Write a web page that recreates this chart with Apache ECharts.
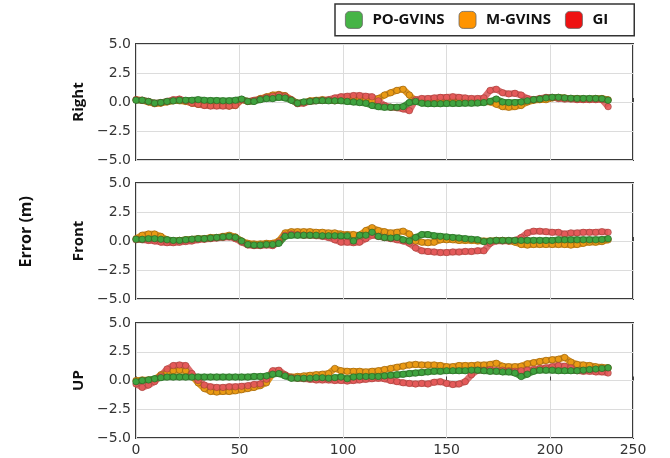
<!DOCTYPE html>
<html>
<head>
<meta charset="utf-8">
<script src="https://cdn.jsdelivr.net/npm/echarts@6/dist/echarts.min.js"></script>
<style>html,body{margin:0;padding:0;background:#fff}#c{width:670px;height:458px}</style>
</head>
<body>
<div id="c"></div>
<script>
// ---- data ----
const xs = [0,3,6,9,12,15,18,21,24,27,30,33,36,39,42,45,48,51,54,57,60,63,66,69,72,75,78,81,84,87,90,93,96,99,102,105,108,111,114,117,120,123,126,129,132,135,138,141,144,147,150,153,156,159,162,165,168,171,174,177,180,183,186,189,192,195,198,201,204,207,210,213,216,219,222,225,228];
const seriesNames = ['PO-GVINS','M-GVINS','GI'];
const panelNames = ['Right','Front','UP'];
const xTickLabels = ['0','50','100','150','200','250'];
const yTickLabels = ['\u22125.0','\u22122.5','0.0','2.5','5.0'];

const rightPO = [0.15,0.15,0.05,-0.1,-0.05,0.05,0.1,0.15,0.15,0.15,
 0.2,0.15,0.12,0.12,0.1,0.1,0.15,0.25,0.05,0.05,
 0.2,0.3,0.3,0.4,0.35,0.15,-0.1,0.0,0.05,0.1,
 0.12,0.1,0.1,0.1,0.05,0.0,-0.05,-0.1,-0.3,-0.4,
 -0.45,-0.45,-0.45,-0.4,-0.05,0.05,-0.1,-0.15,-0.15,-0.15,
 -0.12,-0.12,-0.12,-0.1,-0.1,-0.08,-0.05,0.05,0.25,0.0,
 -0.05,-0.05,0.0,0.1,0.2,0.25,0.35,0.4,0.4,0.35,
 0.32,0.3,0.3,0.3,0.3,0.28,0.15];
const rightM = [0.2,0.15,0.0,-0.15,-0.1,0.0,0.1,0.1,0.05,-0.1,
 -0.2,-0.25,-0.3,-0.3,-0.3,-0.35,-0.3,0.2,0.05,0.1,
 0.3,0.45,0.6,0.65,0.55,0.2,-0.1,-0.05,0.1,0.15,
 0.2,0.15,0.1,0.15,0.3,0.3,0.3,0.25,0.1,0.3,
 0.6,0.8,1.0,1.1,0.6,0.1,0.0,-0.05,0.0,0.0,
 0.0,0.05,0.05,0.0,0.0,0.0,0.05,0.0,-0.2,-0.4,
 -0.45,-0.4,-0.3,0.0,0.15,0.2,0.2,0.35,0.4,0.35,
 0.3,0.3,0.25,0.25,0.3,0.3,0.2];
const rightGI = [0.2,0.15,0.05,-0.1,-0.05,0.05,0.2,0.25,0.1,-0.1,
 -0.2,-0.3,-0.35,-0.35,-0.35,-0.35,-0.3,0.2,0.05,0.15,
 0.25,0.4,0.5,0.6,0.5,0.2,-0.15,-0.1,0.05,0.1,
 0.15,0.2,0.35,0.45,0.5,0.55,0.55,0.5,0.45,0.1,
 -0.3,-0.45,-0.5,-0.6,-0.75,0.2,0.3,0.3,0.35,0.4,
 0.4,0.45,0.4,0.35,0.3,0.3,0.35,1.0,1.1,0.8,
 0.7,0.75,0.6,0.3,0.2,0.3,0.4,0.4,0.3,0.25,
 0.25,0.2,0.2,0.2,0.2,0.2,-0.4];

const frontPO = [0.15,0.15,0.2,0.2,0.15,0.1,0.05,0.05,0.1,0.15,
 0.2,0.2,0.25,0.3,0.35,0.4,0.3,0.0,-0.3,-0.35,
 -0.35,-0.3,-0.3,-0.2,0.4,0.5,0.5,0.5,0.5,0.5,
 0.45,0.45,0.45,0.45,0.45,0.0,0.5,0.5,0.75,0.4,
 0.3,0.25,0.3,0.1,0.0,0.3,0.55,0.55,0.45,0.4,
 0.35,0.3,0.25,0.2,0.15,0.1,-0.05,0.0,0.05,0.05,
 0.05,0.05,0.05,0.05,0.05,0.05,0.05,0.05,0.1,0.1,
 0.1,0.1,0.1,0.1,0.1,0.12,0.2];
const frontM = [0.2,0.5,0.6,0.6,0.4,0.1,0.0,0.05,0.1,0.15,
 0.2,0.2,0.3,0.3,0.4,0.5,0.35,0.0,-0.2,-0.25,
 -0.25,-0.2,-0.2,0.0,0.7,0.8,0.8,0.8,0.8,0.75,
 0.75,0.7,0.7,0.6,0.55,0.55,0.5,0.9,1.15,0.9,
 0.8,0.7,0.75,0.85,0.6,0.0,-0.1,-0.15,-0.1,0.1,
 0.1,0.1,0.05,0.05,0.05,0.0,0.0,0.0,0.05,0.05,
 0.0,-0.1,-0.3,-0.35,-0.3,-0.3,-0.3,-0.3,-0.3,-0.3,
 -0.35,-0.3,-0.2,-0.1,-0.1,-0.05,0.1];
const frontGI = [0.1,0.1,0.05,0.0,-0.1,-0.15,-0.15,-0.1,-0.05,0.0,
 0.1,0.15,0.2,0.25,0.3,0.35,0.2,-0.1,-0.35,-0.4,
 -0.4,-0.35,-0.4,-0.1,0.5,0.6,0.55,0.5,0.5,0.45,
 0.4,0.3,0.1,-0.1,-0.1,-0.15,-0.1,0.2,0.5,0.4,
 0.3,0.2,0.1,0.0,-0.2,-0.6,-0.85,-0.9,-0.95,-1.0,
 -1.0,-0.95,-0.95,-0.9,-0.9,-0.85,-0.85,-0.2,0.0,0.0,
 0.0,0.05,0.3,0.7,0.85,0.85,0.8,0.75,0.75,0.6,
 0.7,0.7,0.75,0.75,0.75,0.8,0.75];

const upPO = [-0.1,0.0,0.05,0.15,0.25,0.3,0.3,0.3,0.3,0.3,
 0.3,0.3,0.3,0.3,0.3,0.3,0.3,0.3,0.3,0.35,
 0.35,0.4,0.55,0.6,0.4,0.2,0.2,0.2,0.2,0.25,
 0.25,0.2,0.25,0.3,0.15,0.3,0.35,0.35,0.35,0.35,
 0.4,0.45,0.5,0.55,0.6,0.65,0.7,0.75,0.8,0.8,
 0.85,0.85,0.85,0.85,0.9,0.9,0.85,0.8,0.8,0.75,
 0.75,0.65,0.35,0.55,0.8,0.9,0.9,0.9,0.85,0.85,
 0.85,0.85,0.9,0.95,1.0,1.05,1.1];
const upM = [0.0,0.05,0.05,0.1,0.5,0.75,0.85,0.9,0.85,0.4,
 -0.2,-0.7,-0.95,-1.0,-0.95,-0.95,-0.9,-0.8,-0.7,-0.6,
 -0.45,-0.2,0.6,0.75,0.45,0.3,0.35,0.4,0.45,0.5,
 0.55,0.6,1.05,0.85,0.8,0.8,0.8,0.75,0.8,0.85,
 0.95,1.05,1.15,1.25,1.35,1.4,1.35,1.35,1.35,1.3,
 1.2,1.2,1.3,1.3,1.3,1.35,1.35,1.4,1.5,1.25,
 1.2,1.2,1.25,1.45,1.55,1.65,1.75,1.8,1.85,2.0,
 1.6,1.4,1.35,1.3,1.2,1.15,1.1];
const upGI = [-0.3,-0.6,-0.4,-0.1,0.4,1.0,1.3,1.35,1.3,0.6,
 0.0,-0.4,-0.55,-0.6,-0.6,-0.55,-0.55,-0.5,-0.45,-0.35,
 -0.3,0.1,0.85,0.9,0.5,0.25,0.2,0.15,0.1,0.05,
 0.05,0.05,0.0,0.0,-0.05,0.0,0.05,0.1,0.15,0.2,
 0.15,0.0,-0.1,-0.2,-0.25,-0.3,-0.25,-0.3,-0.15,-0.1,
 -0.25,-0.35,-0.3,-0.1,0.5,0.9,0.9,0.95,0.85,0.9,
 0.85,0.8,0.85,0.9,0.95,1.05,1.1,1.2,1.3,1.25,
 1.1,0.85,0.8,0.8,0.75,0.75,0.65];

// ---- chart ----
const panels = [
  {PO: rightPO, M: rightM, GI: rightGI},
  {PO: frontPO, M: frontM, GI: frontGI},
  {PO: upPO, M: upM, GI: upGI}
];
const grids = [
  {left: 136, right: 37, top: 44, height: 116},
  {left: 136, right: 37, top: 183, height: 116},
  {left: 136, right: 37, top: 323, height: 115}
];
const style = {
  'PO-GVINS': {fill: '#3fa33f', line: 'rgba(58,145,55,0.95)', border: 'rgba(40,90,30,0.8)', legend: '#46b446'},
  'M-GVINS': {fill: '#ea9a14', line: 'rgba(220,142,20,0.95)', border: 'rgba(120,80,20,0.7)', legend: '#ff9400'},
  'GI': {fill: 'rgba(228,88,88,0.9)', line: 'rgba(215,85,85,0.85)', border: 'rgba(130,50,40,0.6)', legend: '#ee1111'}
};
const fontT = '"DejaVu Sans", sans-serif';
const fontB = '"Open Sans", "DejaVu Sans", sans-serif';

const xAxes = [], yAxes = [], series = [];
grids.forEach((g, i) => {
  g.show = true; g.borderColor = '#3a3a3a'; g.borderWidth = 2; g.backgroundColor = '#fff';
  xAxes.push({
    type: 'value', gridIndex: i, min: 0, max: 240, interval: 50,
    axisLine: {show: false},
    axisTick: {show: true, inside: true, length: 4, lineStyle: {color: '#444'}},
    axisLabel: {show: i === 2, color: '#333', fontSize: 14, fontFamily: fontT, margin: 5,
      formatter: (v, idx) => xTickLabels[idx]},
    splitLine: {show: true, lineStyle: {color: '#dcdcdc', width: 1}}
  });
  yAxes.push({
    type: 'value', gridIndex: i, min: -5, max: 5, interval: 2.5,
    name: panelNames[i], nameLocation: 'middle', nameGap: 48, nameRotate: 90,
    nameTextStyle: {fontFamily: fontB, fontWeight: 'bold', fontSize: 15, color: '#111'},
    axisLine: {show: false}, axisTick: {show: false},
    axisLabel: {color: '#333', fontSize: 14, fontFamily: fontT, margin: 5,
      formatter: (v, idx) => yTickLabels[idx]},
    splitLine: {show: true, lineStyle: {color: '#dcdcdc', width: 1}}
  });
  const p = panels[i];
  [['M-GVINS', p.M], ['GI', p.GI], ['PO-GVINS', p.PO]].forEach(([name, arr]) => {
    const s = style[name];
    series.push({
      name, type: 'line', xAxisIndex: i, yAxisIndex: i,
      data: xs.map((x, k) => [x, arr[k]]),
      symbol: 'circle', symbolSize: 6.5, showSymbol: true, showAllSymbol: true,
      lineStyle: {width: 6.5, color: s.line},
      itemStyle: {color: s.fill, borderColor: s.border, borderWidth: 0.7},
      silent: true, animation: false, clip: true
    });
  });
});

const chart = echarts.init(document.getElementById('c'), null, {renderer: 'canvas'});
chart.setOption({
  backgroundColor: '#fff',
  animation: false,
  grid: grids,
  xAxis: xAxes,
  yAxis: yAxes,
  series,
  legend: {
    left: 335, top: 4,
    icon: 'roundRect', itemWidth: 17, itemHeight: 17, itemGap: 14,
    padding: [7, 26, 7, 10],
    borderColor: '#333', borderWidth: 1.5, borderRadius: 0,
    textStyle: {fontFamily: fontB, fontWeight: 'bold', fontSize: 15, color: '#111', padding: [0, 0, 0, 5]},
    data: seriesNames.map(n => ({name: n, itemStyle: {color: style[n].legend, borderColor: '#666', borderWidth: 0.8}}))
  },
  graphic: [{
    type: 'text', left: 18, top: 196, rotation: Math.PI / 2,
    style: {text: 'Error (m)', font: 'bold 16px ' + fontB, fill: '#111'}
  }]
});
</script>
</body>
</html>
